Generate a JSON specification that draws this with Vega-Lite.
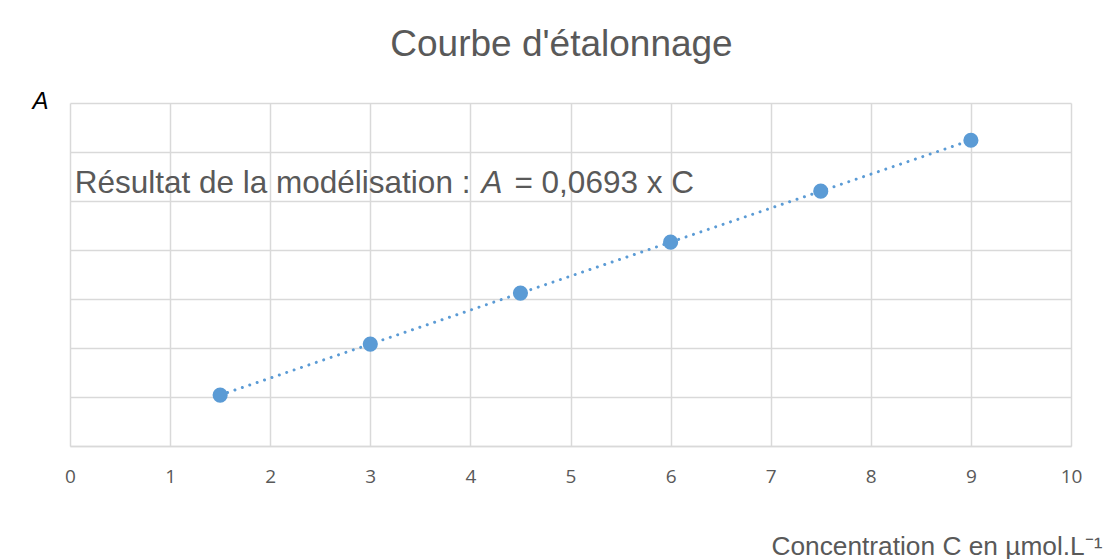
{
  "$schema": "https://vega.github.io/schema/vega-lite/v6.json",
  "width": 1001,
  "height": 343,
  "autosize": {"type": "none"},
  "padding": {"left": 70, "top": 103, "right": 39, "bottom": 113},
  "background": "white",
  "config": {"view": {"stroke": null}},
  "title": {
    "text": "Courbe d'étalonnage",
    "font": "Liberation Sans",
    "fontSize": 37,
    "fontWeight": "normal",
    "color": "#595959",
    "anchor": "middle",
    "baseline": "alphabetic",
    "offset": -4,
    "dx": -9
  },
  "data": {
    "values": [
      {"C": 1.5, "A": 0.104},
      {"C": 3, "A": 0.208},
      {"C": 4.5, "A": 0.312},
      {"C": 6, "A": 0.416},
      {"C": 7.5, "A": 0.52},
      {"C": 9, "A": 0.624}
    ]
  },
  "layer": [
    {
      "mark": {
        "type": "line",
        "color": "#5b9bd5",
        "strokeWidth": 3,
        "strokeDash": [0.01, 7.8],
        "strokeCap": "round"
      },
      "encoding": {
        "x": {
          "field": "C",
          "type": "quantitative",
          "scale": {"domain": [0, 10], "nice": false, "zero": false},
          "axis": {
            "values": [0, 1, 2, 3, 4, 5, 6, 7, 8, 9, 10],
            "format": "d",
            "grid": true,
            "gridColor": "#d9d9d9",
            "gridWidth": 1.5,
            "domain": true,
            "domainColor": "#d9d9d9",
            "domainWidth": 1.5,
            "ticks": false,
            "labelFlush": false,
            "labelFont": "Open Sans",
            "labelFontSize": 19,
            "labelColor": "#595959",
            "labelBaseline": "middle",
            "labelPadding": 30,
            "title": "Concentration C en µmol.L⁻¹",
            "titleFont": "Liberation Sans",
            "titleFontSize": 26.3,
            "titleFontWeight": "normal",
            "titleColor": "#595959",
            "titleAnchor": "end",
            "titleAlign": "right",
            "titleBaseline": "alphabetic",
            "titleX": 1032,
            "titleY": 108
          }
        },
        "y": {
          "field": "A",
          "type": "quantitative",
          "scale": {"domain": [0, 0.7], "nice": false, "zero": false},
          "axis": {
            "values": [0, 0.1, 0.2, 0.3, 0.4, 0.5, 0.6, 0.7],
            "grid": true,
            "gridColor": "#d9d9d9",
            "gridWidth": 1.5,
            "domain": false,
            "ticks": false,
            "labels": false,
            "title": "A",
            "titleFont": "Liberation Sans",
            "titleFontSize": 24,
            "titleFontStyle": "italic",
            "titleFontWeight": "normal",
            "titleColor": "#000000",
            "titleAngle": 0,
            "titleAlign": "center",
            "titleBaseline": "alphabetic",
            "titleX": -30,
            "titleY": 5
          }
        }
      }
    },
    {
      "mark": {"type": "circle", "color": "#5b9bd5", "size": 230, "opacity": 1},
      "encoding": {
        "x": {"field": "C", "type": "quantitative"},
        "y": {"field": "A", "type": "quantitative"}
      }
    },
    {
      "data": {"values": [{}]},
      "mark": {
        "type": "text",
        "text": "Résultat de la modélisation :",
        "font": "Liberation Sans",
        "fontSize": 31.5,
        "color": "#595959",
        "align": "right",
        "baseline": "alphabetic"
      },
      "encoding": {
        "x": {"datum": 4.0, "type": "quantitative"},
        "y": {"datum": 0.516, "type": "quantitative"}
      }
    },
    {
      "data": {"values": [{}]},
      "mark": {
        "type": "text",
        "text": "A",
        "font": "Liberation Sans",
        "fontSize": 31.5,
        "fontStyle": "italic",
        "color": "#595959",
        "align": "left",
        "baseline": "alphabetic"
      },
      "encoding": {
        "x": {"datum": 4.11, "type": "quantitative"},
        "y": {"datum": 0.516, "type": "quantitative"}
      }
    },
    {
      "data": {"values": [{}]},
      "mark": {
        "type": "text",
        "text": "= 0,0693 x C",
        "font": "Liberation Sans",
        "fontSize": 31.5,
        "color": "#595959",
        "align": "left",
        "baseline": "alphabetic"
      },
      "encoding": {
        "x": {"datum": 4.44, "type": "quantitative"},
        "y": {"datum": 0.516, "type": "quantitative"}
      }
    }
  ]
}
